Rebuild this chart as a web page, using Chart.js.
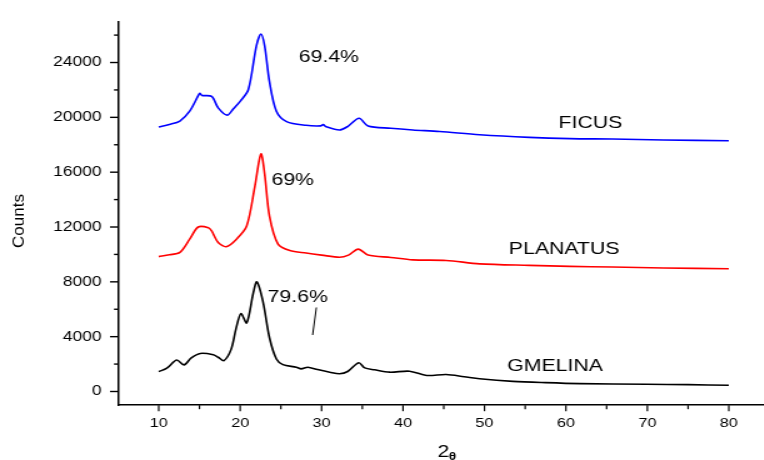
<!DOCTYPE html>
<html>
<head>
<meta charset="utf-8">
<script src="https://cdn.jsdelivr.net/npm/chart.js@4.4.1/dist/chart.umd.min.js"></script>
<style>
  html, body { margin: 0; padding: 0; background: #fff; overflow: hidden; width: 764px; height: 460px; }
  /* the source figure has a horizontally stretched look, so scale the canvas */
  #wrap { width: 618px; height: 460px; transform: scaleX(1.25); transform-origin: 0 0; }
</style>
</head>
<body>
<div id="wrap"><canvas id="xrd" width="618" height="460"></canvas></div>
<script>
// ── Data ────────────────────────────────────────────────────────────

const ficusX = [10, 11.3, 12.6, 13.8, 14.85, 15.05, 15.3, 16.5, 17.3, 18.4, 19.2, 20.0, 21.0, 22.0, 22.55,
  23.0, 23.6, 24.45, 25.7, 28.1, 29.9, 30.2, 30.5, 32.2, 33.2, 34.6, 35.7, 38.5, 41.2, 44.5, 49.4, 55.5,
  60.5, 65.7, 72, 80];
const ficusY = [19300, 19480, 19730, 20450, 21580, 21750, 21600, 21530, 20690, 20160, 20650, 21170, 22010,
  25240, 26080, 25240, 22600, 20450, 19690, 19420, 19380, 19470, 19330, 19080, 19330, 19930, 19370, 19200,
  19080, 18970, 18730, 18540, 18450, 18420, 18350, 18290];

const planatusX = [10, 11.3, 12.6, 13.8, 14.85, 16.1, 16.5, 17.3, 18.3, 19.55, 20.8, 21.8, 22.55, 23.0, 23.6,
  24.65, 26.1, 28.1, 30, 32.2, 33.3, 34.5, 35.7, 38.5, 41.2, 45.3, 49.4, 55.5, 60.5, 65.7, 72, 80];
const planatusY = [9840, 9970, 10150, 11110, 12000, 11950, 11710, 10870, 10560, 11110, 12070, 14950, 17340,
  15900, 12790, 10750, 10280, 10100, 9950, 9790, 9950, 10390, 9960, 9780, 9600, 9560, 9310, 9200, 9130,
  9080, 9010, 8950];

const gmelinaX = [10, 11, 12.2, 13.1, 14, 15.1, 16.7, 17.3, 18.0, 18.9, 19.5, 20.1, 20.8, 21.6, 22.05, 22.8,
  23.6, 24.45, 25.25, 26.9, 27.5, 28.3, 29.5, 31.0, 32.2, 33.2, 34.55, 35.3, 36.5, 38.35, 40.8, 42.9, 45.3,
  47.5, 49.4, 53.5, 57.5, 61.7, 69.9, 75, 80];
const gmelinaY = [1450, 1700, 2300, 1940, 2450, 2775, 2680, 2500, 2250, 3090, 4600, 5680, 5000, 7160, 8000,
  6560, 3920, 2370, 1960, 1770, 1650, 1770, 1600, 1410, 1290, 1460, 2100, 1720, 1580, 1410, 1480, 1170,
  1240, 1080, 930, 740, 645, 575, 525, 500, 450];

const xTicks = [10, 20, 30, 40, 50, 60, 70, 80];
const xMinor = [15, 25, 35, 45, 55, 65, 75, 85];
const yTicks = [0, 4000, 8000, 12000, 16000, 20000, 24000];
const yMinor = [2000, 6000, 10000, 14000, 18000, 22000, 26000];

// labels: [text, x, y] in data units
const crystallinity = [['69.4%', 27.2, 24350], ['69%', 23.85, 15420], ['79.6%', 23.37, 6850]];
const sampleNames   = [['FICUS', 59.1, 19550], ['PLANATUS', 53.0, 10350], ['GMELINA', 52.8, 1820]];

const FONT = '"Liberation Sans", Arial, sans-serif';
const SX = 1.25;  // css stretch of #wrap

function series(xs, ys) {
  return xs.map((x, i) => ({ x, y: ys[i] }));
}

// ── Plugin: tick marks, labels, axis titles ─────────────────────────

const extras = {
  id: 'extras',
  afterDraw(chart) {
    const { ctx, scales: { x, y } } = chart;
    ctx.save();
    ctx.strokeStyle = '#000';
    ctx.fillStyle = '#000';

    // x tick marks (below axis)
    ctx.lineWidth = 1.2;
    xTicks.concat(xMinor).forEach(v => {
      const px = x.getPixelForValue(v);
      const len = xTicks.includes(v) ? 6 : 4;
      ctx.beginPath();
      ctx.moveTo(px, x.top);
      ctx.lineTo(px, x.top + len);
      ctx.stroke();
    });
    // y tick marks (left of axis)
    ctx.lineWidth = 1.4;
    yTicks.concat(yMinor).forEach(v => {
      const py = y.getPixelForValue(v);
      const len = (yTicks.includes(v) ? 8 : 4) / SX;
      ctx.beginPath();
      ctx.moveTo(y.right, py);
      ctx.lineTo(y.right - len, py);
      ctx.stroke();
    });

    // annotations
    ctx.font = '17px ' + FONT;
    ctx.textAlign = 'left';
    ctx.textBaseline = 'middle';
    crystallinity.concat(sampleNames).forEach(([t, vx, vy]) => {
      ctx.fillText(t, x.getPixelForValue(vx), y.getPixelForValue(vy));
    });

    // pointer line under 79.6%
    ctx.lineWidth = 1;
    ctx.beginPath();
    ctx.moveTo(x.getPixelForValue(29.36), y.getPixelForValue(6130));
    ctx.lineTo(x.getPixelForValue(28.9), y.getPixelForValue(4120));
    ctx.stroke();

    // x title: 2θ
    const tx = x.getPixelForValue(44.25);
    ctx.textBaseline = 'alphabetic';
    ctx.font = '17px ' + FONT;
    ctx.fillText('2', tx, 457);
    const w2 = ctx.measureText('2').width;
    ctx.font = 'bold 11px ' + FONT;
    ctx.fillText('θ', tx + w2 - 0.5, 460);

    // y title: Counts (undo the css stretch)
    ctx.save();
    ctx.translate(15, 221);
    ctx.scale(1 / SX, 1);
    ctx.rotate(-Math.PI / 2);
    ctx.font = '17px ' + FONT;
    ctx.textAlign = 'center';
    ctx.textBaseline = 'middle';
    ctx.fillText('Counts', 0, 0);
    ctx.restore();

    ctx.restore();
  }
};

// ── Chart ───────────────────────────────────────────────────────────

const line = (data, color) => ({
  data,
  borderColor: color,
  borderWidth: 1.6,
  pointRadius: 0,
  fill: false,
  tension: 0.3,
});

new Chart(document.getElementById('xrd'), {
  type: 'line',
  data: {
    datasets: [
      line(series(ficusX, ficusY), '#0000ff'),
      line(series(planatusX, planatusY), '#ff0000'),
      line(series(gmelinaX, gmelinaY), '#000000'),
    ]
  },
  options: {
    responsive: false,
    animation: false,
    devicePixelRatio: 1,
    layout: { padding: { top: 15.5, right: 2.4, left: 0, bottom: 0 } },
    plugins: { legend: { display: false }, tooltip: { enabled: false } },
    scales: {
      x: {
        type: 'linear',
        min: 5, max: 85,
        grid: { display: false, drawTicks: false },
        border: { display: true, color: '#000', width: 1.5 },
        afterBuildTicks: s => { s.ticks = xTicks.map(v => ({ value: v })); },
        afterFit: s => { s.height = 54.8; },
        ticks: { padding: 10, color: '#000', font: { family: FONT, size: 13 }, maxRotation: 0 },
      },
      y: {
        min: -1000, max: 27000,
        grid: { display: false, drawTicks: false },
        border: { display: true, color: '#000', width: 1.5 },
        afterBuildTicks: s => { s.ticks = yTicks.map(v => ({ value: v })); },
        afterFit: s => { s.width = 118 / SX; },
        ticks: { padding: 13, color: '#000', font: { family: FONT, size: 14 },
                 callback: v => String(v) },
      }
    }
  },
  plugins: [extras]
});
</script>
</body>
</html>
